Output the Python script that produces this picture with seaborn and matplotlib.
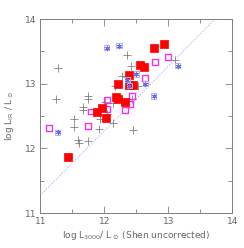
import matplotlib
matplotlib.use("Agg")
import matplotlib.pyplot as plt
from matplotlib.ticker import MultipleLocator
import seaborn as sns
import numpy as np
import pandas as pd

# Red filled squares
red_x = [11.44, 11.89, 11.96, 12.03, 12.19, 12.21, 12.22, 12.33, 12.39, 12.38, 12.45, 12.56, 12.62, 12.78, 12.94]
red_y = [11.87, 12.56, 12.62, 12.47, 12.80, 12.77, 13.00, 12.71, 13.13, 12.98, 12.98, 13.29, 13.26, 13.55, 13.62]

# Magenta open squares
mag_x = [11.14, 11.74, 11.79, 12.04, 12.05, 12.33, 12.40, 12.43, 12.64, 12.79, 12.99]
mag_y = [12.32, 12.34, 12.57, 12.75, 12.61, 12.60, 12.69, 12.81, 13.09, 13.33, 13.42]

# Blue boxed asterisks
blue_x = [11.27, 12.04, 12.23, 12.36, 12.39, 12.50, 12.64, 12.77, 13.15]
blue_y = [12.25, 13.56, 13.59, 13.06, 12.97, 13.15, 13.00, 12.81, 13.28]

# Gray plus signs
gray_x = [11.28, 11.25, 11.53, 11.52, 11.59, 11.60, 11.74, 11.66, 11.67, 11.74, 11.75, 11.91, 11.94,
          12.01, 12.05, 12.14, 12.14, 12.16, 12.28, 12.35, 12.35, 12.41, 12.52, 12.45, 12.43, 13.11]
gray_y = [13.25, 12.76, 12.46, 12.33, 12.13, 12.09, 12.12, 12.64, 12.60, 12.81, 12.77, 12.30, 12.46,
          12.71, 12.53, 12.39, 12.70, 12.97, 13.12, 13.44, 13.10, 13.28, 12.97, 12.28, 12.77, 13.36]

LINE_OFFSET = 0.27  # dotted reference: y = x + offset
X_RANGE = (11, 14)
Y_RANGE = (11, 14)

sns.set_style("ticks")
plt.rcParams['font.family'] = ['DejaVu Sans']
plt.rcParams['mathtext.fontset'] = 'dejavusans'

text_col = "#666666"
fig = plt.figure(figsize=(2.44, 2.48), dpi=100)
ax = fig.add_axes([0.165, 0.141, 0.787, 0.782])

# dotted one-to-one style line
ax.axline((X_RANGE[0], X_RANGE[0] + LINE_OFFSET), slope=1, color="#a8b0ec",
          linestyle=(0, (1, 1.5)), linewidth=0.8, zorder=1)

gray_df = pd.DataFrame({"x": gray_x, "y": gray_y})
sns.scatterplot(data=gray_df, x="x", y="y", marker="+", s=26, color="#808080",
                linewidth=0.6, ax=ax, zorder=2)

mag_df = pd.DataFrame({"x": mag_x, "y": mag_y})
sns.scatterplot(data=mag_df, x="x", y="y", marker="s", s=18, facecolor="none",
                edgecolor="#ee33ee", linewidth=1.0, ax=ax, zorder=3)

red_df = pd.DataFrame({"x": red_x, "y": red_y})
sns.scatterplot(data=red_df, x="x", y="y", marker="s", s=26, color="#ff0000",
                edgecolor="#ff0000", linewidth=0.5, ax=ax, zorder=4)

blue_df = pd.DataFrame({"x": blue_x, "y": blue_y})
sns.scatterplot(data=blue_df, x="x", y="y", marker="s", s=14, facecolor="none",
                edgecolor="#b0b2f6", linewidth=0.7, ax=ax, zorder=5)
sns.scatterplot(data=blue_df, x="x", y="y", marker=(6, 2, 0), s=12, color="#6a6aee",
                linewidth=0.6, ax=ax, zorder=6)

ax.set_xlim(*X_RANGE)
ax.set_ylim(*Y_RANGE)
ax.xaxis.set_major_locator(MultipleLocator(1))
ax.xaxis.set_minor_locator(MultipleLocator(0.5))
ax.yaxis.set_major_locator(MultipleLocator(1))
ax.yaxis.set_minor_locator(MultipleLocator(0.5))
ax.tick_params(which="both", direction="in", top=True, right=True, colors="#808080",
               labelcolor=text_col, labelsize=6.5, width=0.6)
ax.tick_params(which="major", length=5, pad=3)
ax.tick_params(which="minor", length=3)
for sp in ax.spines.values():
    sp.set_color("#808080")
    sp.set_linewidth(0.7)

ax.set_xlabel(r"log L$_{3000}$/ L$_\odot$ (Shen uncorrected)", fontsize=6.5, color=text_col, labelpad=2)
ax.set_ylabel(r"log L$_{\rm IR}$ / L$_\odot$", fontsize=6.5, color=text_col, labelpad=6)

fig.savefig("out.png", dpi=100)
